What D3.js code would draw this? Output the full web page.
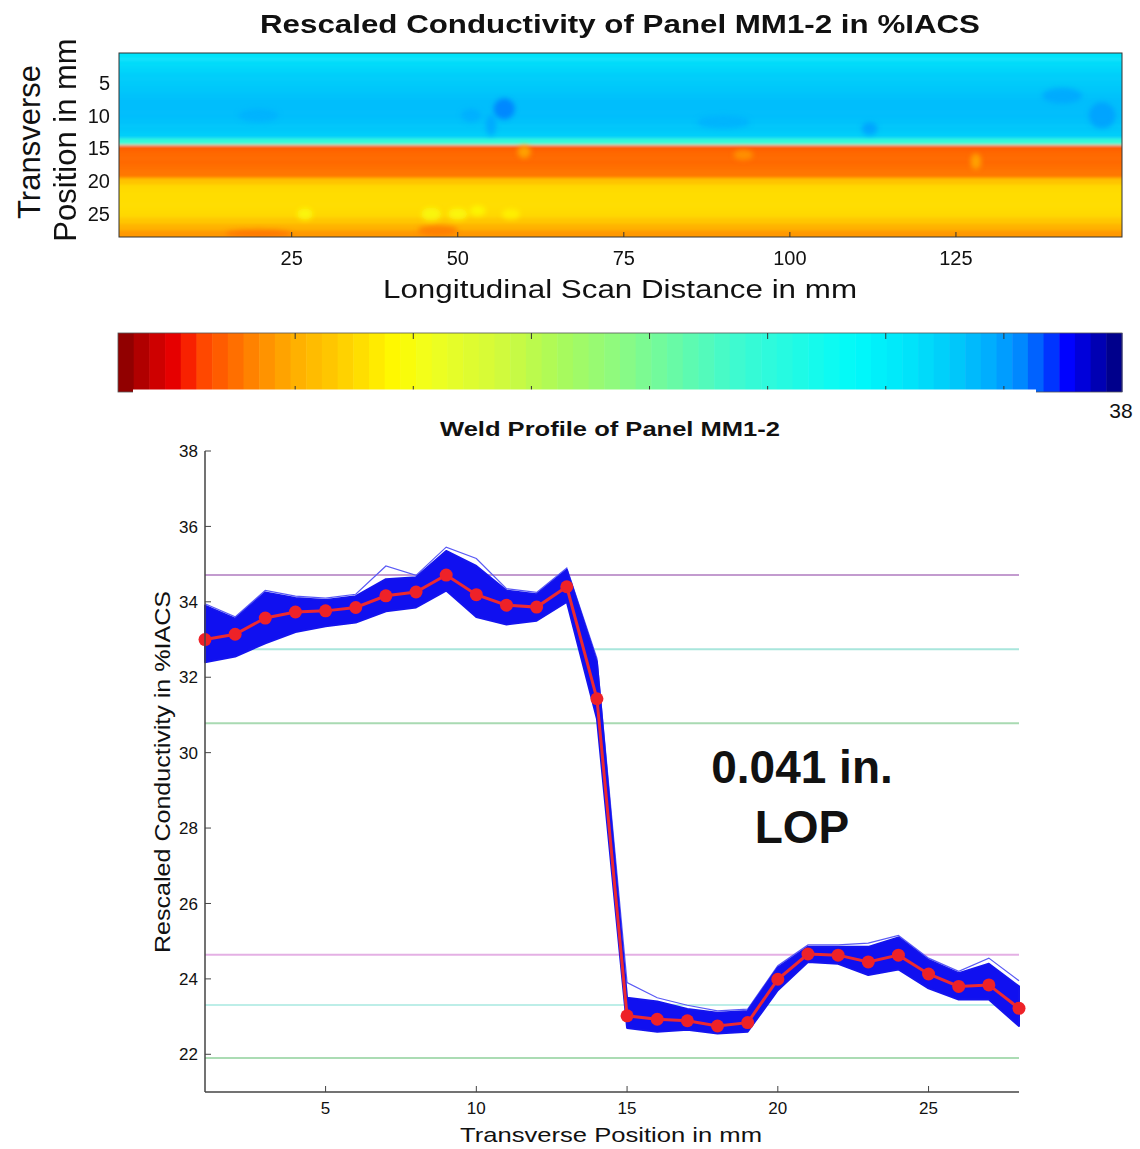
<!DOCTYPE html>
<html>
<head>
<meta charset="utf-8">
<script src="https://cdn.jsdelivr.net/npm/d3@7"></script>
<style>
  body { margin: 0; background: #fff; }
  svg { display: block; }
  text { font-family: "Liberation Sans", Arial, sans-serif; fill: #111; }
</style>
</head>
<body>
<div id="viz"></div>
<script>
// transverse positions (mm) and the mean profile (red dots)
var transPos = [1,2,3,4,5,6,7,8,9,10,11,12,13,14,15,16,17,18,19,20,21,22,23,24,25,26,27,28];
var meanCond = [33.0,33.14,33.57,33.73,33.76,33.85,34.16,34.26,34.71,34.19,33.91,33.86,34.40,31.43,
                23.02,22.93,22.89,22.75,22.84,23.99,24.66,24.63,24.45,24.63,24.13,23.80,23.84,23.22];
// envelope of all the blue scan lines
var bandHigh = [33.9,33.55,34.25,34.1,34.05,34.15,34.6,34.65,35.35,34.95,34.3,34.2,34.85,32.4,
                23.5,23.4,23.2,23.1,23.15,24.3,24.85,24.85,24.85,25.1,24.5,24.15,24.4,23.8];
var bandLow  = [32.4,32.55,32.9,33.2,33.35,33.45,33.75,33.85,34.3,33.6,33.4,33.5,34.0,30.9,
                22.7,22.6,22.65,22.55,22.6,23.7,24.45,24.4,24.1,24.25,23.75,23.45,23.45,22.75];
// the highest single scan line (light wisps above the band)
var scanTop  = [33.95,33.6,34.3,34.15,34.1,34.2,34.95,34.7,35.45,35.15,34.35,34.25,34.9,32.5,
                23.9,23.5,23.3,23.15,23.2,24.35,24.9,24.9,24.95,25.15,24.55,24.2,24.55,23.95];
// horizontal reference levels in the profile plot
var refLevels = [34.71,32.74,30.78,24.64,23.31,21.9];
var refColors = ['#c39bcf','#a9e6dc','#a9dab2','#e4b0e4','#bdeee8','#abdcb4'];
// scan image: value of each transverse row
var heatRows = [34.4,34.6,34.8,35.0,35.1,35.2,35.3,35.4,35.4,35.4,35.3,35.2,35.0,31.8,
                22.8,22.9,22.9,23.0,23.1,24.5,25.0,25.1,25.1,25.1,25.0,24.6,24.1,23.6];
// local spots in the scan image: [longitudinal mm, transverse mm, value, rx mm, ry mm]
var spots = [[57,9,36.4,1.6,1.6],[55,11.5,35.9,0.8,1.6],[52,10,35.8,1.5,1],[20,10,35.7,3,1],
             [112,12,36.0,1.2,1],[141,7,35.9,3,1.2],[147,10,36.0,2,2],[90,11,35.7,4,1],
             [27,25,25.9,1.2,0.9],[46,25,26.0,1.5,1],[50,25,25.9,1.5,0.9],[53,24.5,25.8,1.2,0.8],
             [58,25,25.6,1.4,0.8],[60,15.5,24.0,1,1],[128,17,24.0,0.8,1.2],[93,16,23.6,1.5,0.8],
             [20,28,23.0,5,0.6],[47,27.5,23.1,3,0.8]];
var heatTicksX = [25,50,75,100,125];
var heatTicksY = [5,10,15,20,25];
// colorbar (reversed jet), colours read along its length
var cbTicks = [24,26,28,30,32,34,36];
var cbStops = [0,0.015,0.042,0.062,0.077,0.108,0.141,0.176,0.214,0.246,0.276,0.311,0.38,0.44,0.5,0.56,0.62,
               0.679,0.734,0.784,0.834,0.873,0.903,0.926,0.946,0.968,1];
var cbColors = ['#800000','#a00000','#d40000','#f00000','#ff3c00','#ff6400','#ff8c00','#ffaf00','#ffc800','#ffe100',
                '#fffa00','#f0ff1e','#d2fa3c','#aafa5a','#8cfa82','#64faaa','#3cfad2','#1efae6','#00fafa','#00e6fa',
                '#00c8fa','#00aaff','#0082ff','#0040ff','#0000ff','#0000c8','#000078'];
var profTicksX = [5,10,15,20,25];
var profTicksY = [22,24,26,28,30,32,34,36,38];

var W = 1140, H = 1149;
var svg = d3.select('#viz').append('svg').attr('width', W).attr('height', H);
svg.append('rect').attr('width', W).attr('height', H).attr('fill', '#fff');
var defs = svg.append('defs');

var cmin = 21, cmax = 38;
var tScale = d3.scaleLinear().domain([cmin, cmax]).range([0, 1]).clamp(true);
var cmap = d3.scaleLinear().domain(cbStops).range(cbColors).interpolate(d3.interpolateRgb);
function colorOf(v) { return cmap(tScale(v)); }

// ---------- top: scan image ----------
var hx = d3.scaleLinear().domain([-1, 150]).range([119, 1122]);
var hy = d3.scaleLinear().domain([0.5, 28.5]).range([53, 237]);

defs.append('clipPath').attr('id', 'heatClip').append('rect')
  .attr('x', hx(-1)).attr('y', hy(0.5)).attr('width', hx(150) - hx(-1)).attr('height', hy(28.5) - hy(0.5));
defs.append('filter').attr('id', 'soft').attr('x', '-5%').attr('y', '-5%').attr('width', '110%').attr('height', '110%')
  .append('feGaussianBlur').attr('stdDeviation', 1.5);
defs.append('filter').attr('id', 'softer').attr('x', '-50%').attr('y', '-50%').attr('width', '200%').attr('height', '200%')
  .append('feGaussianBlur').attr('stdDeviation', 2.5);

var heatG = svg.append('g').attr('clip-path', 'url(#heatClip)');
var heat = heatG.append('g').attr('filter', 'url(#soft)');
heat.selectAll('rect.row').data(transPos).join('rect')
  .attr('class', 'row')
  .attr('x', hx(-1) - 10)
  .attr('width', hx(150) - hx(-1) + 20)
  .attr('y', (d, i) => i === 0 ? hy(0.5) - 10 : hy(d - 0.5))
  .attr('height', (d, i) => hy(d + 0.5) - hy(d - 0.5) + (i === 0 || i === transPos.length - 1 ? 10 : 0.6))
  .attr('fill', (d, i) => colorOf(heatRows[i]));
heatG.append('g').attr('filter', 'url(#softer)')
  .selectAll('ellipse').data(spots).join('ellipse')
  .attr('cx', d => hx(d[0])).attr('cy', d => hy(d[1]))
  .attr('rx', d => hx(d[0] + d[3]) - hx(d[0])).attr('ry', d => hy(d[1] + d[4]) - hy(d[1]))
  .attr('fill', d => colorOf(d[2])).attr('opacity', 0.8);

svg.append('rect').attr('x', hx(-1)).attr('y', hy(0.5))
  .attr('width', hx(150) - hx(-1)).attr('height', hy(28.5) - hy(0.5))
  .attr('fill', 'none').attr('stroke', '#333').attr('stroke-width', 1);

svg.selectAll('text.hty').data(heatTicksY).join('text').attr('class', 'hty')
  .attr('x', 110).attr('y', d => hy(d)).attr('dy', '0.36em')
  .attr('text-anchor', 'end').attr('font-size', 20).text(d => d);
svg.selectAll('text.htx').data(heatTicksX).join('text').attr('class', 'htx')
  .attr('x', d => hx(d)).attr('y', 265)
  .attr('text-anchor', 'middle').attr('font-size', 20).text(d => d);
svg.selectAll('line.htxm').data(heatTicksX).join('line').attr('class', 'htxm')
  .attr('x1', d => hx(d)).attr('x2', d => hx(d)).attr('y1', hy(28.5)).attr('y2', hy(28.5) - 5)
  .attr('stroke', '#333');

svg.append('text').attr('x', 620).attr('y', 33).attr('text-anchor', 'middle')
  .attr('font-size', 25).attr('font-weight', 'bold')
  .attr('textLength', 720).attr('lengthAdjust', 'spacingAndGlyphs')
  .text('Rescaled Conductivity of Panel MM1-2 in %IACS');
svg.append('text').attr('x', 620).attr('y', 298).attr('text-anchor', 'middle')
  .attr('font-size', 25).attr('textLength', 474).attr('lengthAdjust', 'spacingAndGlyphs')
  .text('Longitudinal Scan Distance in mm');
svg.append('text').attr('transform', 'translate(40,142) rotate(-90)')
  .attr('text-anchor', 'middle').attr('font-size', 31).text('Transverse');
svg.append('text').attr('transform', 'translate(76,140) rotate(-90)')
  .attr('text-anchor', 'middle').attr('font-size', 31).text('Position in mm');

// ---------- colorbar ----------
var cbx = d3.scaleLinear().domain([cmin, cmax]).range([118, 1122]);
var nBands = 64;
var bands = d3.range(nBands);
svg.append('g').selectAll('rect').data(bands).join('rect')
  .attr('x', k => cbx(cmin + k * (cmax - cmin) / nBands))
  .attr('width', k => cbx(cmin + (k + 1) * (cmax - cmin) / nBands) - cbx(cmin + k * (cmax - cmin) / nBands) + 0.5)
  .attr('y', 333).attr('height', 59)
  .attr('fill', k => cmap((k + 0.5) / nBands));
svg.append('rect').attr('x', 118).attr('y', 333).attr('width', 1004).attr('height', 59)
  .attr('fill', 'none').attr('stroke', '#555').attr('stroke-width', 0.8);
svg.selectAll('line.cbt').data(cbTicks).join('line').attr('class', 'cbt')
  .attr('x1', d => cbx(d)).attr('x2', d => cbx(d)).attr('y1', 333).attr('y2', 339)
  .attr('stroke', '#333');
svg.selectAll('line.cbb').data(cbTicks).join('line').attr('class', 'cbb')
  .attr('x1', d => cbx(d)).attr('x2', d => cbx(d)).attr('y1', 392).attr('y2', 386)
  .attr('stroke', '#333');
// the lower figure is pasted over the bottom edge of the colorbar
svg.append('rect').attr('x', 133).attr('y', 389.5).attr('width', 903).attr('height', 30).attr('fill', '#fff');
svg.append('text').attr('x', 1121).attr('y', 418).attr('text-anchor', 'middle')
  .attr('font-size', 21).text(cmax);

// ---------- bottom: weld profile ----------
var px = d3.scaleLinear().domain([1, 28]).range([205, 1019]);
var py = d3.scaleLinear().domain([21, 38]).range([1092, 451]);

svg.selectAll('line.ref').data(refLevels).join('line').attr('class', 'ref')
  .attr('x1', px(1)).attr('x2', px(28)).attr('y1', d => py(d)).attr('y2', d => py(d))
  .attr('stroke', (d, i) => refColors[i]).attr('stroke-width', 2);

var topLine = d3.line().x((d, i) => px(transPos[i])).y((d, i) => py(scanTop[i]));
svg.append('path').datum(transPos).attr('d', topLine)
  .attr('fill', 'none').attr('stroke', '#5a5af5').attr('stroke-width', 1.2);

var area = d3.area().x((d, i) => px(transPos[i])).y0((d, i) => py(bandLow[i])).y1((d, i) => py(bandHigh[i]));
svg.append('path').datum(transPos).attr('d', area)
  .attr('fill', '#1010f0').attr('stroke', '#1414ee').attr('stroke-width', 2).attr('stroke-linejoin', 'round');

var line = d3.line().x((d, i) => px(transPos[i])).y((d, i) => py(meanCond[i]));
svg.append('path').datum(transPos).attr('d', line)
  .attr('fill', 'none').attr('stroke', '#ec2a30').attr('stroke-width', 3);
svg.selectAll('circle.m').data(transPos).join('circle').attr('class', 'm')
  .attr('cx', d => px(d)).attr('cy', (d, i) => py(meanCond[i])).attr('r', 6.5)
  .attr('fill', '#ee2228');

var axCol = '#444';
svg.append('line').attr('x1', px(1)).attr('x2', px(1)).attr('y1', py(38)).attr('y2', py(21))
  .attr('stroke', axCol).attr('stroke-width', 1.5);
svg.append('line').attr('x1', px(1)).attr('x2', px(28)).attr('y1', py(21)).attr('y2', py(21))
  .attr('stroke', axCol).attr('stroke-width', 1.5);
svg.selectAll('line.pty').data(profTicksY).join('line').attr('class', 'pty')
  .attr('x1', px(1)).attr('x2', px(1) + 6).attr('y1', d => py(d)).attr('y2', d => py(d))
  .attr('stroke', axCol);
svg.selectAll('line.ptx').data(profTicksX).join('line').attr('class', 'ptx')
  .attr('x1', d => px(d)).attr('x2', d => px(d)).attr('y1', py(21)).attr('y2', py(21) - 6)
  .attr('stroke', axCol);
svg.selectAll('text.pty').data(profTicksY).join('text').attr('class', 'pty')
  .attr('x', 198).attr('y', d => py(d)).attr('dy', '0.36em')
  .attr('text-anchor', 'end').attr('font-size', 17).attr('fill', '#333').text(d => d);
svg.selectAll('text.ptx').data(profTicksX).join('text').attr('class', 'ptx')
  .attr('x', d => px(d)).attr('y', 1114)
  .attr('text-anchor', 'middle').attr('font-size', 17).attr('fill', '#333').text(d => d);

svg.append('text').attr('x', 610).attr('y', 436).attr('text-anchor', 'middle')
  .attr('font-size', 20).attr('font-weight', 'bold')
  .attr('textLength', 340).attr('lengthAdjust', 'spacingAndGlyphs')
  .text('Weld Profile of Panel MM1-2');
svg.append('text').attr('x', 611).attr('y', 1142).attr('text-anchor', 'middle')
  .attr('font-size', 21).attr('textLength', 302).attr('lengthAdjust', 'spacingAndGlyphs')
  .text('Transverse Position in mm');
svg.append('text').attr('transform', 'translate(170,772) rotate(-90)')
  .attr('text-anchor', 'middle').attr('font-size', 22)
  .attr('textLength', 362).attr('lengthAdjust', 'spacingAndGlyphs')
  .text('Rescaled Conductivity in %IACS');

svg.append('text').attr('x', 802).attr('y', 783).attr('text-anchor', 'middle')
  .attr('font-size', 46).attr('font-weight', 'bold').attr('fill', '#000').text('0.041 in.');
svg.append('text').attr('x', 802).attr('y', 843).attr('text-anchor', 'middle')
  .attr('font-size', 46).attr('font-weight', 'bold').attr('fill', '#000').text('LOP');
</script>
</body>
</html>
